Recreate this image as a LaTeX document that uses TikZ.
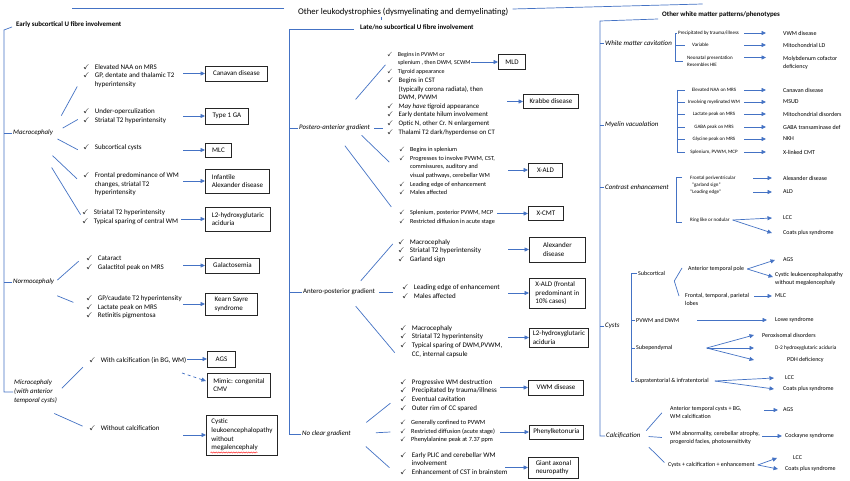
\documentclass[tikz,border=0pt]{standalone}
\usepackage{amssymb}
\usepackage{fontspec}
\setmainfont{Carlito}
\usetikzlibrary{arrows.meta,calc,decorations.pathmorphing}
\definecolor{lineblue}{HTML}{4472C4}
\newcommand\ck{$\checkmark$}
\newcommand\cklist[1]{\begin{tabular}{@{}l@{\hspace{5pt}}l@{}}#1\end{tabular}}
\newcommand\fs[1]{\fontsize{#1}{8.6}\selectfont}
\newcommand\bodyfs{\fontsize{7}{8.6}\selectfont}
\newcommand\smallfs{\fontsize{5}{7.2}\selectfont}
\newcommand\midfs{\fontsize{6}{8}\selectfont}
\newcommand\labfs{\fontsize{6.9}{9}\selectfont}
\newcommand\titlefs{\fontsize{8.7}{10}\selectfont}

\begin{document}
\begin{tikzpicture}[x=1pt, y=-1pt,
  ln/.style={lineblue, line width=0.7pt},
  arr/.style={-{Triangle[length=4.5pt,width=4pt]}, lineblue, line width=0.7pt},
  grp/.style={anchor=west, inner sep=0pt, font=\fs{#1}}, grp/.default=7,
  dbox/.style 2 args={draw=black!85, line width=0.9pt, anchor=west, align=left, font=\bodyfs, inner xsep=2pt, inner ysep=1pt, minimum width=#1, minimum height=#2},
  lbl/.style={anchor=west, inner sep=1pt, align=left, font=\labfs\itshape},
  hd/.style={anchor=west, inner sep=1pt, font=\labfs\bfseries},
  itm/.style={anchor=west, inner sep=1pt, align=left, font=\smallfs},
  itmb/.style={anchor=west, inner sep=1pt, align=left, font=\midfs},
  tgt/.style={anchor=west, inner sep=1pt, align=left, font=\midfs}
]
  \path[use as bounding box, fill=white] (0,0) rectangle (850,481);

  \node[anchor=west, inner sep=1pt, font=\titlefs] (title) at (297,12) {Other leukodystrophies (dysmyelinating and demyelinating)};
  \node[hd] (early) at (15,25) {Early subcortical U fibre involvement};
  \node[hd] (late) at (359,27) {Late/no subcortical U fibre involvement};
  \node[hd] (other) at (661,15) {Other white matter patterns/phenotypes};
  \draw[ln] ([shift={(-13,-4)}]title.west) -- ++(-212,0);
  \draw[ln] ([shift={(3,-3)}]title.east) -- ++(190,-5);
  \draw[ln] ([xshift=-22]title.south) -- ++(0,3);

  \node[lbl] (macro) at (12,133) {Macrocephaly};
  \node[lbl] (normo) at (12,282) {Normocephaly};
  \node[lbl] (micro) at (13,392) {Microcephaly\\(with anterior\\temporal cysts)};
  \draw[ln] ([shift={(-3,2)}]early.west) -- ++(-8,3) coordinate (lbar) |- (micro.west);
  \foreach \n in {macro,normo} \draw[ln] (lbar |- \n.west) -- (\n.west);

  \node[grp] (gcan) at (83,76) {\cklist{\ck & Elevated NAA on MRS\\ \ck & GP, dentate and thalamic T2\\ & hyperintensity}};
  \node[grp] (gtype) at (83,116.5) {\cklist{\ck & Under-operculization\\ \ck & Striatal T2 hyperintensity}};
  \node[grp] (gmlc) at (83,148) {\cklist{\ck & Subcortical cysts}};
  \node[grp] (galex) at (83,184.5) {\cklist{\ck & Frontal predominance of WM\\ & changes, striatal T2\\ & hyperintensity}};
  \node[grp] (gl2) at (82,217) {\cklist{\ck & Striatal T2 hyperintensity\\ \ck & Typical sparing of central WM}};
  \node[grp] (ggal) at (86,263.5) {\cklist{\ck & Cataract\\ \ck & Galactitol peak on MRS}};
  \node[grp] (gks) at (86,307.5) {\cklist{\ck & GP/caudate T2 hyperintensity\\ \ck & Lactate peak on MRS\\ \ck & Retinitis pigmentosa}};
  \node[grp] (gwith) at (89,361) {\cklist{\ck & With calcification (in BG, WM)}};
  \node[grp] (gwo) at (89,429) {\cklist{\ck & Without calcification}};

  \node[dbox={62pt}{15pt}] (canavan) at (205,73.5) {Canavan disease};
  \node[dbox={43pt}{16pt}] (type1) at (205,116) {Type 1 GA};
  \node[dbox={26pt}{14pt}] (mlcL) at (205,150) {MLC};
  \node[dbox={64pt}{24pt}] (infalex) at (205,181) {Infantile\\Alexander disease};
  \node[dbox={65pt}{24pt}] (l2L) at (205,219) {L2-hydroxyglutaric\\aciduria};
  \node[dbox={54pt}{15pt}] (galac) at (205,265.5) {Galactosemia};
  \node[dbox={52pt}{22pt}] (kearn) at (205,304) {Kearn Sayre\\syndrome};
  \node[dbox={28pt}{16pt}] (agsL) at (207,359) {AGS};
  \node[dbox={63pt}{24pt}] (cmv) at (207,385) {Mimic: congenital\\CMV};
  \node[dbox={71pt}{40pt}] (cystic) at (206,435) {Cystic\\leukoencephalopathy\\without\\megalencephaly};
  \draw[red, line width=0.4pt, decorate, decoration={snake, amplitude=0.6pt, segment length=2.5pt}] ([shift={(4.5,-3)}]cystic.south west) -- ++(47,0);

  \node[lbl] (pa) at (298,128) {Postero-anterior gradient};
  \node[lbl, font=\labfs] (ap) at (302,292) {Antero-posterior gradient};
  \node[lbl] (nocl) at (301,434) {No clear gradient};
  \draw[ln] ([shift={(-5,2)}]late.west) -- ++(-65,0) coordinate (mbar) |- (nocl.west);
  \foreach \n in {pa,ap} \draw[ln] (mbar |- \n.west) -- (\n.west);

  \node[grp=6] (gmld) at (387,63) {\cklist{\ck & Begins in PVWM or\\ & splenium , then DWM, SCWM\\ \ck & Tigroid appearance}};
  \node[grp=6.8] (gkr) at (387,106.5) {\cklist{\ck & Begins in CST\\ & (typically corona radiata), then\\ & DWM, PVWM\\ \ck & \textit{May have} tigroid appearance\\ \ck & Early dentate hilum involvement\\ \ck & Optic N, other Cr. N enlargement\\ \ck & Thalami T2 dark/hyperdense on CT}};
  \node[grp=6.2] (gxald) at (399,171.5) {\cklist{\ck & Begins in splenium\\ \ck & Progresses to involve PVWM, CST,\\ & commissures, auditory and\\ & visual pathways, cerebellar WM\\ \ck & Leading edge of enhancement\\ \ck & Males affected}};
  \node[grp=6.2] (gxcmt) at (399,217) {\cklist{\ck & Splenium, posterior PVWM, MCP\\ \ck & Restricted diffusion in acute stage}};
  \node[grp] (galx) at (398,251) {\cklist{\ck & Macrocephaly\\ \ck & Striatal T2 hyperintensity\\ \ck & Garland sign}};
  \node[grp] (gxaldf) at (402,292.5) {\cklist{\ck & Leading edge of enhancement\\ \ck & Males affected}};
  \node[grp] (gl2m) at (400,341.5) {\cklist{\ck & Macrocephaly\\ \ck & Striatal T2 hyperintensity\\ \ck & Typical sparing of DWM,PVWM,\\ & CC, internal capsule}};
  \node[grp] (gvwm) at (400,395.5) {\cklist{\ck & Progressive WM destruction\\ \ck & Precipitated by trauma/illness\\ \ck & Eventual cavitation\\ \ck & Outer rim of CC spared}};
  \node[grp=6.3] (gpku) at (400,431.5) {\cklist{\ck & Generally confined to PVWM\\ \ck & Restricted diffusion (acute stage)\\ \ck & Phenylalanine peak at 7.37 ppm}};
  \node[grp] (ggan) at (400,464) {\cklist{\ck & Early PLIC and cerebellar WM\\ & involvement\\ \ck & Enhancement of CST in brainstem}};

  \node[dbox={27pt}{15pt}] (mld) at (498,62) {MLD};
  \node[dbox={55pt}{14pt}] (krabbe) at (523,101.5) {Krabbe disease};
  \node[dbox={34pt}{14pt}] (xald) at (528,170) {X-ALD};
  \node[dbox={35pt}{14pt}] (xcmt) at (528,213.5) {X-CMT};
  \node[dbox={56pt}{25pt}] (alexd) at (529,249.5) {Alexander\\disease};
  \node[dbox={56pt}{30pt}] (xaldf) at (529,293) {X-ALD (frontal\\predominant in\\10\% cases)};
  \node[dbox={59pt}{19pt}] (l2M) at (529,337.5) {L2-hydroxyglutaric\\aciduria};
  \node[dbox={55pt}{15pt}] (vwm) at (528,387.5) {VWM disease};
  \node[dbox={54pt}{14pt}] (pku) at (529,432) {Phenylketonuria};
  \node[dbox={50pt}{21pt}] (gan) at (528,467.5) {Giant axonal\\neuropathy};

  \foreach \b/\l in {canavan/22,type1/22,mlcL/22,infalex/22,l2L/24,galac/22,kearn/22,agsL/20,cystic/23,mld/27,krabbe/16,xald/20,xcmt/31,alexd/21,xaldf/21,l2M/21,vwm/28,pku/29,gan/23}
    \draw[arr] ([xshift=-\l]\b.west) -- (\b.west);
  \draw[arr, dashed] ([shift={(-25,-12)}]cmv.west) -- ([shift={(-1,-4)}]cmv.west);
  \draw[ln] ([xshift=3]pa.east) -- ([xshift=-4]pa.east -| gkr.west);
  \draw[ln] ([xshift=3]ap.east) -- ([xshift=-9]ap.east -| gxaldf.west);

  \node[lbl] (wmc) at (604,43) {White matter cavitation};
  \node[lbl] (mvac) at (604,125) {Myelin vacuolation};
  \node[lbl] (cenh) at (604,187) {Contrast enhancement};
  \node[lbl] (cyst) at (604,326) {Cysts};
  \node[lbl] (calcf) at (605,436) {Calcification};
  \draw[ln] ([shift={(-3,4)}]other.west) -- ++(-58,2) coordinate (rbar) |- (calcf.west);
  \foreach \n in {wmc,mvac,cenh,cyst} \draw[ln] (rbar |- \n.west) -- (\n.west);

  \node[itm] (wc1) at (677,33) {Precipitated by trauma/illness};
  \node[itm] (wc2) at (691,45) {Variable};
  \node[itm] (wc3) at (686,61.5) {Neonatal presentation\\Resembles HIE};
  \foreach \y/\d [count=\i] in {33/VWM disease, 45/Mitochondrial LD, 62.5/{Molybdenum cofactor\\deficiency}}
    \node[tgt] (wt\i) at (782,\y) {\d};
  \foreach \i/\s in {1/0,2/0,3/5}
    \draw[arr] ([shift={(-38,-\s)}]wt\i.west) -- ([shift={(-16,-\s)}]wt\i.west);
  \draw[ln] (wc1.west) -- ++(-2,0) coordinate (cb) |- ([xshift=-3]wc3.west);
  \draw[ln] (cb |- wc2.west) -- ([xshift=-6]wc2.west);

  \foreach \y/\t/\d [count=\i] in {90/Elevated NAA on MRS/Canavan disease, 102/Involving myelinated WM/MSUD, 114/Lactate peak on MRS/Mitochondrial disorders, 127/GABA peak on MRS/GABA transaminase def, 139/Glycine peak on MRS/NKH, 152/{Splenium, PVWM, MCP}/X-linked CMT} {
    \node[itm, anchor=center] (mv\i) at (714,\y) {\t};
    \node[tgt] (mt\i) at (782,\y) {\d};
    \draw[arr] ([xshift=-38]mt\i.west) -- ([xshift=-16]mt\i.west);
    \draw[ln] ([xshift=-37]mv\i.center) -- ++(8,0);
  }
  \draw[ln] ([xshift=-37]mv1.center) -- ([xshift=-37]mv6.center);

  \node[itm] (ce1) at (689,182) {Frontal periventricular\\\hspace{2pt}“garland sign”};
  \node[itm] (ce2) at (689,192) {“Leading edge”};
  \node[itm] (ce3) at (689,220) {Ring like or nodular};
  \node[tgt] (ct1) at (782,178) {Alexander disease};
  \node[tgt] (ct2) at (782,192) {ALD};
  \node[tgt] (ct3) at (782,218) {LCC};
  \node[tgt] (ct4) at (782,233) {Coats plus syndrome};
  \foreach \n in {ct1,ct2} \draw[arr] ([xshift=-29]\n.west) -- ([xshift=-10]\n.west);
  \foreach \n in {ct3,ct4} \draw[arr] ([xshift=2]ce3.east) -- ([xshift=-10]\n.west);
  \draw[ln] ([shift={(-7,-5)}]ce1.west) -| ([shift={(-13,2)}]ce3.west) -- ++(6,0);

  \node[itmb] (cs1) at (637,273) {Subcortical};
  \node[itmb] (cs2) at (635,320) {PVWM and DWM};
  \node[itmb] (cs3) at (635,348) {Subependymal};
  \node[itmb] (cs4) at (634,381) {Supratentorial \& infratentorial};
  \draw[ln] (cs1.west) -- ++(-6,0) coordinate (yb) -- (yb |- cs4.west) -- (cs4.west);
  \foreach \n in {cs2,cs3} \draw[ln] (yb |- \n.west) -- (\n.west);
  \node[itmb] (atp) at (687,269) {Anterior temporal pole};
  \node[itmb] (ftp) at (684,299) {Frontal, temporal, parietal\\lobes};
  \draw[ln] ([shift={(-5,-1)}]atp.west) -- ([shift={(8,8)}]cs1.east) -- ([shift={(-5,-3)}]ftp.west);
  \node[tgt] (ags2) at (782,260) {AGS};
  \node[tgt] (cle) at (774,278.5) {Cystic leukoencephalopathy\\without megalencephaly};
  \node[tgt] (mlc2) at (774,296) {MLC};
  \node[tgt] (lowe) at (774,320) {Lowe syndrome};
  \node[tgt] (perox) at (761,335) {Peroxisomal disorders};
  \node[tgt, font=\fontsize{5.4}{7}\selectfont] (d2hg) at (774,348) {D-2 hydroxyglutaric aciduria};
  \node[tgt] (pdh) at (786,360) {PDH deficiency};
  \node[tgt] (lcc2) at (784,378) {LCC};
  \node[tgt] (coats2) at (782,389) {Coats plus syndrome};
  \draw[arr] ([xshift=2]atp.east) -- ([xshift=-7]ags2.west);
  \draw[arr] ([xshift=2]atp.east) -- ([shift={(-1,-1.5)}]cle.west);
  \draw[arr] ([xshift=-20]mlc2.west) -- ([xshift=-2]mlc2.west);
  \draw[arr] ([xshift=17]cs2.east) -- ([xshift=-7]lowe.west);
  \foreach \t/\s in {perox/-7,d2hg/-20,pdh/-32} \draw[arr] ([xshift=33]cs3.east) -- ([xshift=\s]\t.west);
  \draw[arr] ([xshift=5]cs4.east) -- ([xshift=-10]lcc2.west);
  \draw[arr] ([xshift=5]cs4.east) -- ([xshift=-8]coats2.west);

  \node[itmb] (ca1) at (669,412) {Anterior temporal cysts + BG,\\WM calcification};
  \node[itmb] (ca2) at (669,438) {WM abnormality, cerebellar atrophy,\\progeroid facies, photosensitivity};
  \node[itmb] (ca3) at (667,465) {Cysts + calcification + enhancement};
  \node[tgt] (ags3) at (782,410) {AGS};
  \node[tgt] (cock) at (784,436) {Cockayne syndrome};
  \node[tgt] (lcc3) at (792,458) {LCC};
  \node[tgt] (coats3) at (784,469) {Coats plus syndrome};
  \draw[arr] ([xshift=-18]ags3.west) -- ([xshift=-4]ags3.west);
  \draw[arr] ([xshift=-22]cock.west) -- ([xshift=-2]cock.west);
  \draw[arr] ([xshift=2]ca3.east) -- ([xshift=-15]lcc3.west);
  \draw[arr] ([xshift=2]ca3.east) -- ([xshift=-6]coats3.west);

  \foreach \a/\b/\s/\e in {macro.north east/gcan.west/.25/.8, macro.east/gtype.west/.3/.82, macro.south east/gmlc.south west/.12/.82, macro.south/galex.west/.39/.88, macro.south/gl2.west/.38/.97, normo.east/ggal.north west/.07/.76, normo.south/gks.west/.45/.76, micro.east/gwith.west/.12/.8, micro.south/gwo.west/.35/.88, pa.north/gmld.west/.4/.97, pa.-10/gxald.west/.08/.76, pa.south/gxcmt.west/.16/.88, ap.15/galx.north west/.14/.88, ap.-27/gl2m.south west/.16/.9, nocl.east/gvwm.west/.3/.8, nocl.east/gpku.west/.5/.8, nocl.east/ggan.south west/.29/.78, calcf.east/ca1.north west/.17/.74, calcf.east/ca2.west/.26/.74, calcf.south east/ca3.west/.29/.9}
    \draw[ln] ($(\a)!\s!(\b)$) -- ($(\a)!\e!(\b)$);
\end{tikzpicture}
\end{document}
